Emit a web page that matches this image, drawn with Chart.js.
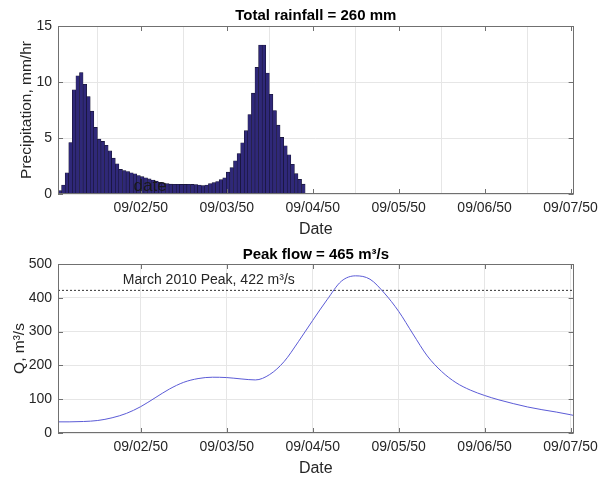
<!DOCTYPE html>
<html>
<head>
<meta charset="UTF-8">
<title>Rainfall and flow</title>
<script src="https://cdn.jsdelivr.net/npm/chart.js@4.4.0/dist/chart.umd.min.js"></script>
<style>
  body { margin: 0; background: #fff; }
  canvas { display: block; }
</style>
</head>
<body>
<canvas id="rain" width="604" height="240"></canvas>
<canvas id="flow" width="604" height="239"></canvas>
<script>
// time axis is in hours since 09/01/50 00:00
const xMin = 0.9, xMax = 144.85;
const tickHours = [24, 48, 72, 96, 120, 144];
const tickLabels = ['09/02/50', '09/03/50', '09/04/50', '09/05/50', '09/06/50', '09/07/50'];

// hourly rainfall, mm/hr - first bar starts at rainStart
const rainStart = 0.9;
const rainfall = [
  0.3, 0.8, 1.9, 4.6, 9.3, 10.55, 10.85, 9.8, 8.7, 7.4,
  5.95, 4.9, 4.7, 4.35, 3.85, 3.2, 2.7, 2.2, 2.1, 2.0,
  1.9, 1.8, 1.65, 1.55, 1.45, 1.35, 1.25, 1.15, 1.05, 0.97,
  0.92, 0.88, 0.87, 0.87, 0.86, 0.86, 0.87, 0.86, 0.85, 0.8,
  0.76, 0.8, 0.92, 1.02, 1.12, 1.28, 1.45, 1.95, 2.35, 2.97,
  3.62, 4.57, 5.66, 7.1, 9.0, 11.3, 13.3, 13.3, 10.8, 8.9,
  7.45, 6.15, 5.05, 4.3, 3.5, 2.66, 1.82, 1.3, 0.88
];

// simulated discharge, m3/s
const flowHours = [0.9, 4, 8, 12, 16, 20, 24, 28, 32, 36, 40, 44, 48, 52, 56, 60, 64, 68, 72, 76,
  80, 84, 88, 92, 96, 100, 104, 108, 112, 116, 120, 124, 128, 132, 136, 140, 144, 144.85];
const flowValues = [33, 33, 34, 37, 45, 58, 78, 104, 130, 150, 161, 165, 164, 160, 157, 173, 211, 270, 333, 394,
  449, 465, 455, 414, 360, 293, 228, 182, 149, 127, 111, 98, 87, 77, 69, 62, 54, 52];

const marchPeak = 422;

const FONT = '"Liberation Sans", Arial, Helvetica, sans-serif';
const INK = '#262626';
Chart.defaults.font.family = FONT;
Chart.defaults.color = INK;

// box round the axes with MATLAB-style inward ticks
const frame = {
  id: 'frame',
  afterDraw(chart) {
    const {ctx, chartArea: a, scales: {x, y}} = chart;
    ctx.save();
    ctx.strokeStyle = '#707070';
    ctx.lineWidth = 1;
    ctx.strokeRect(Math.round(a.left) + 0.5, Math.round(a.top) + 0.5,
      Math.round(a.right - a.left) - 1, Math.round(a.bottom - a.top) - 1);
    ctx.beginPath();
    tickHours.forEach(h => {
      const px = Math.round(x.getPixelForValue(h)) + 0.5;
      ctx.moveTo(px, a.bottom); ctx.lineTo(px, a.bottom - 5);
      ctx.moveTo(px, a.top); ctx.lineTo(px, a.top + 5);
    });
    y.ticks.forEach(t => {
      const py = Math.round(y.getPixelForValue(t.value)) + 0.5;
      ctx.moveTo(a.left, py); ctx.lineTo(a.left + 5, py);
      ctx.moveTo(a.right, py); ctx.lineTo(a.right - 5, py);
    });
    ctx.stroke();
    ctx.restore();
  }
};

// free text placed in data coordinates
const notes = {
  id: 'notes',
  afterDraw(chart, args, opts) {
    const {ctx, scales: {x, y}} = chart;
    ctx.save();
    (opts.items || []).forEach(n => {
      ctx.font = n.size + 'px ' + FONT;
      ctx.fillStyle = n.color || INK;
      ctx.textAlign = 'left';
      ctx.textBaseline = 'middle';
      ctx.fillText(n.text, x.getPixelForValue(n.x), y.getPixelForValue(n.y));
    });
    ctx.restore();
  }
};

function timeAxis() {
  return {
    type: 'linear', min: xMin, max: xMax, offset: false,
    afterBuildTicks: s => { s.ticks = tickHours.map(v => ({value: v})); },
    ticks: {
      callback: (v, i) => tickLabels[i],
      font: {size: 14}, color: INK, padding: 6, maxRotation: 0, autoSkip: false
    },
    grid: {color: '#e6e6e6', drawTicks: false},
    border: {display: false},
    title: {display: true, text: 'Date', font: {size: 16}, color: INK, padding: {top: 0, bottom: 1}},
    afterFit: s => { s.height = 46; }
  };
}

function valueAxis(max, step, label, titlePad) {
  return {
    min: 0, max: max,
    ticks: {stepSize: step, font: {size: 14}, color: INK, padding: 6},
    grid: {color: '#e6e6e6', drawTicks: false},
    border: {display: false},
    title: {display: true, text: label, font: {size: 15.5}, color: INK, padding: {top: titlePad, bottom: 0}},
    afterFit: s => { s.width = 58; }
  };
}

new Chart(document.getElementById('rain'), {
  type: 'bar',
  data: {
    datasets: [{
      data: rainfall.map((v, i) => ({x: rainStart + 0.5 + i, y: v})),
      backgroundColor: '#2f2879',
      borderColor: '#15122f',
      borderWidth: 0.6,
      barPercentage: 1,
      categoryPercentage: 1
    }]
  },
  options: {
    responsive: false,
    animation: false,
    layout: {padding: {left: 0, right: 26, top: 0, bottom: 0}},
    scales: {
      x: timeAxis(),
      y: valueAxis(15, 5, 'Precipitation, mm/hr', 17.5)
    },
    plugins: {
      legend: {display: false},
      tooltip: {enabled: false},
      title: {
        display: true, fullSize: false, text: 'Total rainfall = 260 mm',
        color: '#000', font: {size: 15, weight: 'bold'}, padding: {top: 7, bottom: 1}
      },
      notes: {items: [{text: 'date', x: 22, y: 0.7, size: 17, color: '#1a1a1a'}]}
    }
  },
  plugins: [frame, notes]
});

new Chart(document.getElementById('flow'), {
  type: 'line',
  data: {
    datasets: [{
      data: flowHours.map((h, i) => ({x: h, y: flowValues[i]})),
      borderColor: '#5b5bd6',
      borderWidth: 1,
      pointRadius: 0,
      cubicInterpolationMode: 'monotone'
    }, {
      data: [{x: xMin, y: marchPeak}, {x: xMax, y: marchPeak}],
      borderColor: '#333',
      borderWidth: 1,
      borderDash: [2, 2],
      pointRadius: 0
    }]
  },
  options: {
    responsive: false,
    animation: false,
    layout: {padding: {left: 0, right: 26, top: 0, bottom: 0}},
    scales: {
      x: timeAxis(),
      y: valueAxis(500, 100, 'Q, m³/s', 10.2)
    },
    plugins: {
      legend: {display: false},
      tooltip: {enabled: false},
      title: {
        display: true, fullSize: false, text: 'Peak flow = 465 m³/s',
        color: '#000', font: {size: 15, weight: 'bold'}, padding: {top: 6, bottom: 0}
      },
      notes: {items: [{text: 'March 2010 Peak, 422 m³/s', x: 19, y: 452, size: 14}]}
    }
  },
  plugins: [frame, notes]
});
</script>
</body>
</html>
